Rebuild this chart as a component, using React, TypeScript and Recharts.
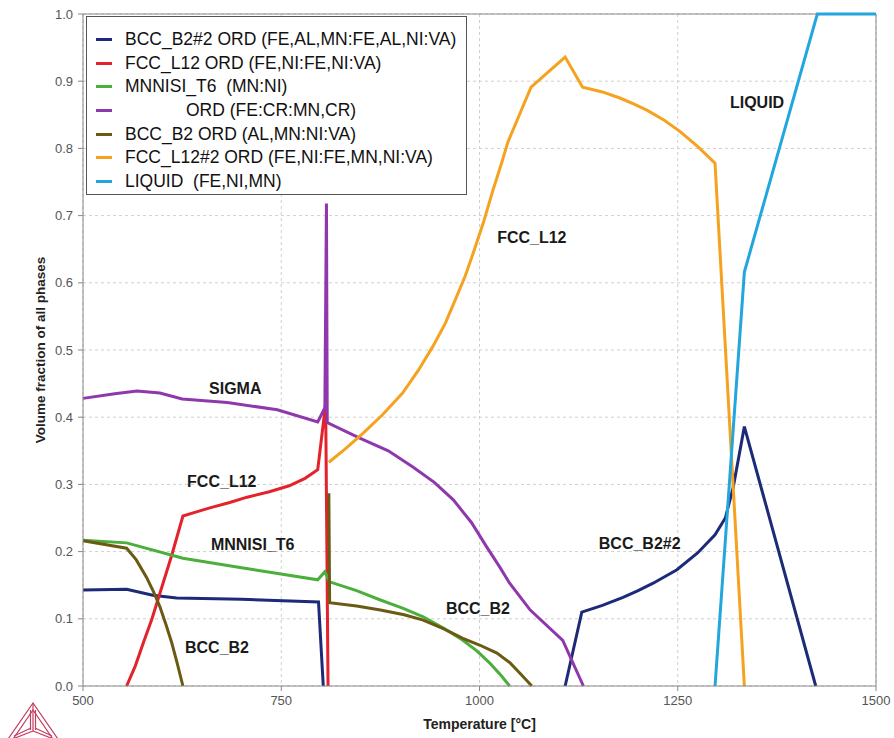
import {
  LineChart,
  Line,
  XAxis,
  YAxis,
  CartesianGrid,
  Legend,
  ReferenceLine,
  ReferenceDot,
} from "recharts";

// temperatures (°C) and volume fractions per phase
const bccB2n2T = [500, 555, 588, 618, 700, 797, 803, 804, 1108, 1129, 1155, 1181, 1200, 1219, 1234, 1249, 1275, 1297, 1310, 1320, 1334, 1424];
const bccB2n2V = [0.143, 0.144, 0.135, 0.131, 0.129, 0.125, 0, null, 0, 0.11, 0.12, 0.132, 0.142, 0.153, 0.163, 0.173, 0.198, 0.225, 0.25, 0.296, 0.386, 0];

const fccL12T = [555, 566, 576, 587, 597, 612, 626, 640, 660, 685, 707, 735, 760, 780, 796, 806, 809];
const fccL12V = [0, 0.03, 0.064, 0.1, 0.138, 0.195, 0.253, 0.258, 0.265, 0.273, 0.281, 0.289, 0.298, 0.309, 0.322, 0.42, 0];

const mnnisiT = [500, 555, 626, 700, 796, 805, 811, 845, 875, 903, 929, 955, 979, 997, 1013, 1027, 1038];
const mnnisiV = [0.217, 0.213, 0.19, 0.176, 0.158, 0.17, 0.155, 0.142, 0.128, 0.116, 0.103, 0.086, 0.068, 0.052, 0.034, 0.016, 0];

const sigmaT = [500, 540, 568, 597, 625, 682, 745, 796, 805, 807, 808, 849, 885, 916, 943, 967, 990, 1009, 1025, 1038, 1064, 1105, 1131];
const sigmaV = [0.428, 0.435, 0.439, 0.436, 0.427, 0.422, 0.411, 0.393, 0.414, 0.718, 0.392, 0.369, 0.35, 0.326, 0.303, 0.277, 0.243, 0.207, 0.178, 0.153, 0.113, 0.068, 0];

const bccB2T = [500, 555, 567, 580, 589, 597, 605, 612, 619, 626, 700, 810, 811, 845, 875, 905, 929, 955, 979, 1000, 1022, 1038, 1051, 1066];
const bccB2V = [0.216, 0.205, 0.188, 0.162, 0.14, 0.118, 0.09, 0.064, 0.033, 0, null, 0.287, 0.124, 0.119, 0.113, 0.106, 0.098, 0.085, 0.071, 0.061, 0.049, 0.035, 0.019, 0];

const fccL12n2T = [810, 830, 853, 878, 903, 923, 941, 957, 971, 982, 992, 1005, 1017, 1027, 1036, 1065, 1108, 1130, 1155, 1177, 1195, 1211, 1233, 1253, 1275, 1297, 1334];
const fccL12n2V = [0.333, 0.352, 0.376, 0.404, 0.436, 0.47, 0.505, 0.54, 0.579, 0.61, 0.644, 0.69, 0.738, 0.775, 0.81, 0.891, 0.936, 0.891, 0.884, 0.875, 0.866, 0.857, 0.842, 0.825, 0.803, 0.778, 0];

const liquidT = [1297, 1334, 1426, 1500];
const liquidV = [0, 0.616, 1.0, 1.0];

const xTicks = [500, 750, 1000, 1250, 1500];
const yTicks = [0, 0.1, 0.2, 0.3, 0.4, 0.5, 0.6, 0.7, 0.8, 0.9, 1.0];

const labelText = ["SIGMA", "FCC_L12", "MNNISI_T6", "BCC_B2", "FCC_L12", "BCC_B2", "BCC_B2#2", "LIQUID"];
const labelT = [692, 675, 714, 669, 1066, 998, 1202, 1350];
const labelV = [0.443, 0.305, 0.211, 0.058, 0.668, 0.116, 0.213, 0.869];

const zip = (t: number[], v: (number | null)[]) => t.map((x, i) => ({ t: x, v: v[i] }));

const series = [
  { name: "BCC_B2#2 ORD (FE,AL,MN:FE,AL,NI:VA)", color: "#1c2a78", data: zip(bccB2n2T, bccB2n2V) },
  { name: "FCC_L12 ORD (FE,NI:FE,NI:VA)", color: "#e3222c", data: zip(fccL12T, fccL12V) },
  { name: "MNNISI_T6  (MN:NI)", color: "#4cae3c", data: zip(mnnisiT, mnnisiV) },
  { name: "ORD (FE:CR:MN,CR)", color: "#8f38ad", data: zip(sigmaT, sigmaV), indent: true },
  { name: "BCC_B2 ORD (AL,MN:NI:VA)", color: "#6b5a12", data: zip(bccB2T, bccB2V) },
  { name: "FCC_L12#2 ORD (FE,NI:FE,MN,NI:VA)", color: "#f4a21f", data: zip(fccL12n2T, fccL12n2V) },
  { name: "LIQUID  (FE,NI,MN)", color: "#22a6dd", data: zip(liquidT, liquidV) },
];

const font = "'Liberation Sans', Arial, sans-serif";

function LegendBox() {
  return (
    <div
      style={{
        width: 381,
        height: 179,
        boxSizing: "border-box",
        border: "1px solid #555",
        background: "#fff",
        padding: "11px 0 0 0",
        fontFamily: font,
        fontSize: 17.5,
        color: "#111",
      }}
    >
      {series.map((s) => (
        <div key={s.name} style={{ display: "flex", alignItems: "center", height: 23.6, whiteSpace: "pre" }}>
          <span style={{ display: "inline-block", width: 16, height: 3, background: s.color, marginLeft: 9, marginRight: 13 }} />
          <span style={{ paddingLeft: s.indent ? 61 : 0 }}>{s.name}</span>
        </div>
      ))}
    </div>
  );
}

// Thermo-Calc style mark in the bottom-left corner
function Logo() {
  const c = "#c23d60";
  return (
    <svg width={70} height={48} style={{ position: "absolute", left: 0, top: 690 }}>
      <g fill="none" stroke={c} strokeWidth={1.2}>
        <polyline points="6,52 33,13 60,52" />
        <polyline points="11,52 33,20 55,52" />
        <line x1={33} y1={13} x2={33} y2={41} />
        <line x1={30.5} y1={20} x2={30.5} y2={40} />
        <line x1={35.5} y1={20} x2={35.5} y2={40} />
        <line x1={33} y1={41} x2={10} y2={50} />
        <line x1={33} y1={41} x2={56} y2={50} />
        <line x1={31} y1={38} x2={14} y2={46} />
        <line x1={35} y1={38} x2={52} y2={46} />
      </g>
    </svg>
  );
}

export default function App() {
  return (
    <div style={{ position: "absolute", left: 0, top: 0, width: 894, height: 738, background: "#fff", fontFamily: font }}>
      <LineChart width={894} height={738} margin={{ top: 14, right: 18, bottom: 0, left: 0 }}>
        <CartesianGrid stroke="#cfcfcf" strokeDasharray="3 3" />
        <XAxis
          type="number"
          dataKey="t"
          domain={[500, 1500]}
          ticks={xTicks}
          height={52}
          stroke="#888"
          tickSize={5}
          tickMargin={5}
          tick={{ fill: "#555", fontSize: 13 }}
          label={{ value: "Temperature [°C]", position: "insideBottom", offset: 9, fill: "#222", fontSize: 14, fontWeight: "bold" }}
        />
        <YAxis
          type="number"
          domain={[0, 1]}
          ticks={yTicks}
          width={83}
          stroke="#888"
          tickSize={5}
          tickMargin={5}
          tick={{ fill: "#555", fontSize: 13 }}
          tickFormatter={(v: number) => v.toFixed(1)}
          label={{ value: "Volume fraction of all phases", angle: -90, position: "center", dx: -1, fill: "#222", fontSize: 13.5, fontWeight: "bold" }}
        />
        <ReferenceLine y={1} stroke="#888" />
        <ReferenceLine x={1500} stroke="#888" />
        {series.map((s) => (
          <Line
            key={s.name}
            name={s.name}
            data={s.data}
            dataKey="v"
            type="linear"
            stroke={s.color}
            strokeWidth={3}
            dot={false}
            connectNulls={false}
            isAnimationActive={false}
          />
        ))}
        {labelText.map((txt, i) => (
          <ReferenceDot
            key={i}
            x={labelT[i]}
            y={labelV[i]}
            r={0}
            fill="none"
            stroke="none"
            label={{ value: txt, position: "center", fill: "#1a1a1a", fontSize: 16, fontWeight: "bold" }}
          />
        ))}
        <Legend
          layout="vertical"
          align="center"
          verticalAlign="middle"
          content={() => <LegendBox />}
          wrapperStyle={{ position: "absolute", left: 86, top: 16, width: 381, height: 179 }}
        />
      </LineChart>
      <Logo />
    </div>
  );
}
